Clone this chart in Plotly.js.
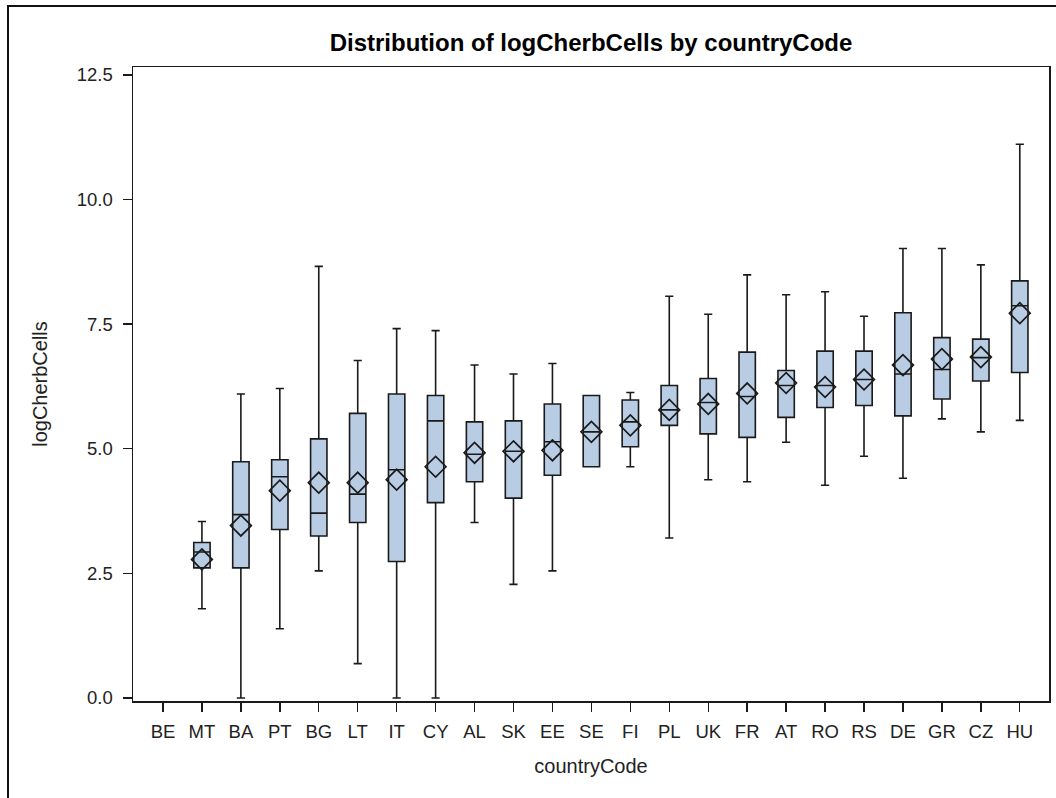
<!DOCTYPE html>
<html>
<head>
<meta charset="utf-8">
<script src="https://cdn.plot.ly/plotly-3.0.1.min.js"></script>
<style>
  html, body { margin: 0; padding: 0; background: #fff; overflow: hidden; }
  #chart { position: absolute; left: 0; top: 0; width: 1056px; height: 798px; }
  #frame { position: absolute; left: 7px; top: 5px; width: 1200px; height: 1000px;
           border: 2px solid #111; pointer-events: none; }
</style>
</head>
<body>
<div id="chart"></div>
<div id="frame"></div>
<script>
// All country codes on the axis (BE has no observations)
const categories = ["BE","MT","BA","PT","BG","LT","IT","CY","AL","SK","EE","SE","FI","PL","UK","FR","AT","RO","RS","DE","GR","CZ","HU"];

// Countries with data and their box statistics of logCherbCells
const countries = ["MT","BA","PT","BG","LT","IT","CY","AL","SK","EE","SE","FI","PL","UK","FR","AT","RO","RS","DE","GR","CZ","HU"];
const minVals    = [1.79, 0.00, 1.39, 2.55, 0.69, 0.00, 0.00, 3.52, 2.28, 2.55, 4.64, 4.64, 3.21, 4.38, 4.34, 5.13, 4.27, 4.85, 4.41, 5.60, 5.34, 5.57];
const q1Vals     = [2.61, 2.61, 3.38, 3.25, 3.52, 2.74, 3.92, 4.34, 4.01, 4.47, 4.64, 5.04, 5.47, 5.30, 5.23, 5.63, 5.83, 5.87, 5.66, 6.00, 6.36, 6.53];
const medianVals = [2.93, 3.68, 4.44, 3.71, 4.09, 4.58, 5.56, 4.89, 4.95, 5.14, 5.34, 5.54, 5.78, 5.93, 6.05, 6.27, 6.27, 6.39, 6.50, 6.59, 6.83, 7.87];
const q3Vals     = [3.12, 4.74, 4.78, 5.20, 5.71, 6.10, 6.07, 5.54, 5.56, 5.90, 6.07, 5.98, 6.27, 6.41, 6.94, 6.57, 6.96, 6.96, 7.73, 7.23, 7.20, 8.37];
const maxVals    = [3.54, 6.10, 6.21, 8.66, 6.77, 7.41, 7.37, 6.68, 6.50, 6.71, 6.07, 6.13, 8.06, 7.70, 8.49, 8.09, 8.15, 7.66, 9.02, 9.02, 8.69, 11.11];
const meanVals   = [2.78, 3.46, 4.16, 4.32, 4.32, 4.38, 4.64, 4.92, 4.95, 4.97, 5.34, 5.47, 5.78, 5.90, 6.11, 6.32, 6.24, 6.39, 6.68, 6.80, 6.84, 7.72];

const yTicks = [0, 2.5, 5, 7.5, 10, 12.5];
const yTickText = ["0.0", "2.5", "5.0", "7.5", "10.0", "12.5"];

const fontFamily = "'Liberation Sans', Arial, sans-serif";

const boxTrace = {
  type: "box",
  x: countries,
  q1: q1Vals,
  median: medianVals,
  q3: q3Vals,
  lowerfence: minVals,
  upperfence: maxVals,
  width: 0.42,
  whiskerwidth: 0.5,
  fillcolor: "#b8cce4",
  line: { color: "#1a1a1a", width: 1.6 },
  boxpoints: false,
  showlegend: false,
  hoverinfo: "skip"
};

const meanTrace = {
  type: "scatter",
  mode: "markers",
  x: countries,
  y: meanVals,
  marker: { symbol: "diamond-open", size: 16, color: "#1a1a1a", line: { width: 1.7, color: "#1a1a1a" } },
  showlegend: false,
  hoverinfo: "skip"
};

const layout = {
  width: 1056,
  height: 798,
  margin: { l: 133, r: 7, t: 67, b: 97 },
  paper_bgcolor: "rgba(0,0,0,0)",
  plot_bgcolor: "#ffffff",
  font: { family: fontFamily, size: 18.5, color: "#222" },
  title: {
    text: "<b>Distribution of logCherbCells by countryCode</b>",
    font: { family: fontFamily, size: 24, color: "#000" },
    x: 0.5, xref: "paper", xanchor: "center",
    y: 0.947, yref: "container", yanchor: "middle"
  },
  xaxis: {
    type: "category",
    categoryorder: "array",
    categoryarray: categories,
    tickmode: "array",
    tickvals: categories,
    ticktext: categories,
    range: [-0.77, 22.75],
    showgrid: false,
    zeroline: false,
    showline: true,
    linecolor: "#1a1a1a",
    linewidth: 1.5,
    mirror: true,
    ticks: "outside",
    ticklen: 9,
    tickwidth: 1.4,
    tickcolor: "#1a1a1a",
    ticklabelstandoff: 4,
    tickfont: { size: 18.5, color: "#222" },
    title: { text: "countryCode", font: { size: 20, color: "#222" }, standoff: 18 },
    automargin: false,
    fixedrange: true
  },
  yaxis: {
    range: [-0.06, 12.66],
    tickmode: "array",
    tickvals: yTicks,
    ticktext: yTickText,
    showgrid: false,
    zeroline: false,
    showline: true,
    linecolor: "#1a1a1a",
    linewidth: 1.5,
    mirror: true,
    ticks: "outside",
    ticklen: 9,
    tickwidth: 1.4,
    tickcolor: "#1a1a1a",
    ticklabelstandoff: 6,
    tickfont: { size: 18.5, color: "#222" },
    title: { text: "logCherbCells", font: { size: 20, color: "#222" }, standoff: 24 },
    automargin: false,
    fixedrange: true
  },
  hovermode: false
};

Plotly.newPlot("chart", [boxTrace, meanTrace], layout, { displayModeBar: false, staticPlot: true });
</script>
</body>
</html>
